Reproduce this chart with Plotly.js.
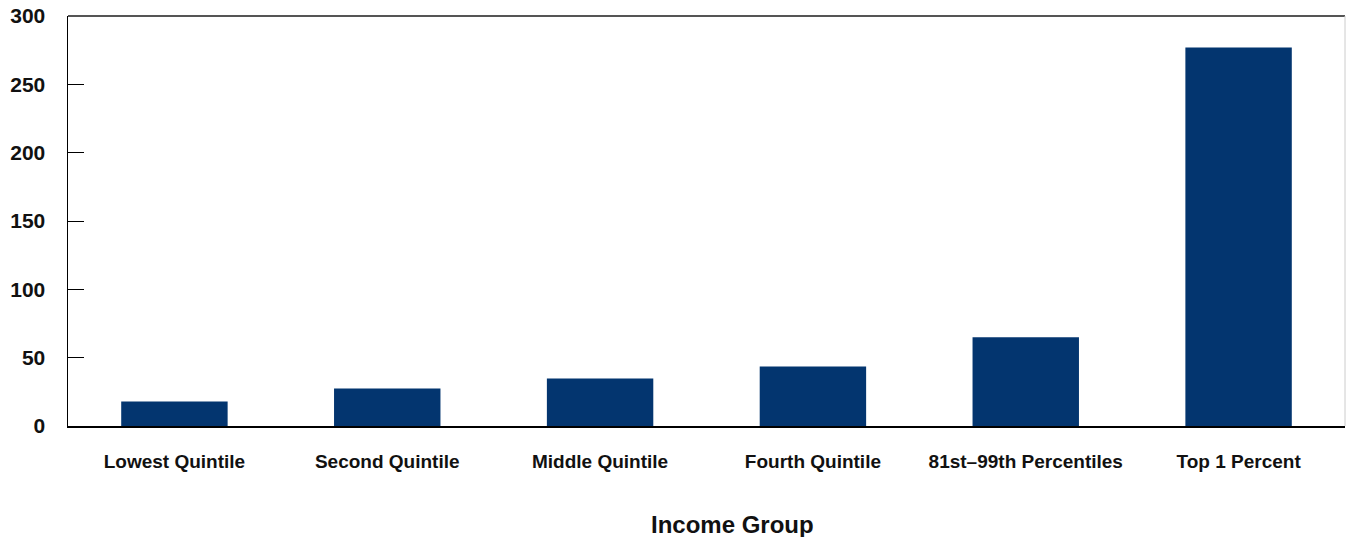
<!DOCTYPE html>
<html>
<head>
<meta charset="utf-8">
<script src="https://cdn.plot.ly/plotly-3.0.1.min.js"></script>
<style>
html,body{margin:0;padding:0;background:#fff;}
#chart{width:1346px;height:537px;}
</style>
</head>
<body>
<div id="chart"></div>
<script>
var categories = ["Lowest Quintile", "Second Quintile", "Middle Quintile", "Fourth Quintile", "81st\u201399th Percentiles", "Top 1 Percent"];
var values = [17.9, 27.4, 34.8, 43.5, 65.0, 277.0];
var yTickVals = [0, 50, 100, 150, 200, 250, 300];
var xTitle = "Income Group";

var FONT = "'Liberation Sans', Arial, sans-serif";

var trace = {
  type: "bar",
  x: categories,
  y: values,
  marker: {color: "#03356f"},
  width: 0.5,
  hoverinfo: "x+y"
};

var layout = {
  width: 1346,
  height: 537,
  margin: {l: 68, r: 1, t: 16, b: 111, pad: 0},
  paper_bgcolor: "#ffffff",
  plot_bgcolor: "#ffffff",
  showlegend: false,
  bargap: 0.5,
  xaxis: {
    type: "category",
    showline: true,
    linecolor: "#000000",
    linewidth: 2,
    ticks: "",
    showgrid: false,
    zeroline: false,
    tickfont: {family: FONT, size: 19, color: "#111111", weight: "bold"},
    ticklabelstandoff: 17,
    automargin: false
  },
  yaxis: {
    range: [0, 300],
    tickvals: yTickVals,
    ticktext: yTickVals.map(String),
    showline: true,
    linecolor: "#000000",
    linewidth: 1.5,
    ticks: "inside",
    ticklen: 16,
    tickwidth: 1,
    tickcolor: "#000000",
    showgrid: false,
    zeroline: false,
    tickfont: {family: FONT, size: 21, color: "#111111", weight: "bold"},
    ticklabelstandoff: 17,
    automargin: false
  },
  shapes: [
    {type: "line", xref: "paper", yref: "paper", x0: 0, x1: 1, y0: 1, y1: 1,
     line: {color: "#555555", width: 2}},
    {type: "line", xref: "paper", yref: "paper", x0: 1, x1: 1, y0: 0, y1: 1,
     line: {color: "#cccccc", width: 1}}
  ],
  annotations: [
    {text: xTitle, xref: "paper", yref: "paper", x: 0.52, y: 0, yshift: -98,
     xanchor: "center", yanchor: "middle", showarrow: false,
     font: {family: FONT, size: 24, color: "#111111", weight: "bold"}}
  ]
};

Plotly.newPlot("chart", [trace], layout, {displayModeBar: false, staticPlot: true});
</script>
</body>
</html>
